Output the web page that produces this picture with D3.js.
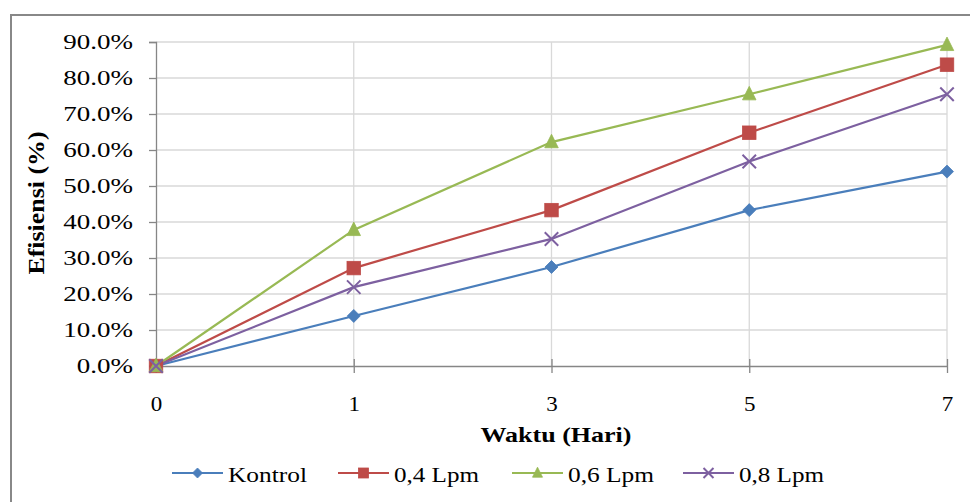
<!DOCTYPE html>
<html><head><meta charset="utf-8">
<script src="https://cdn.jsdelivr.net/npm/d3@7"></script>
<style>
html,body{margin:0;padding:0;background:#fff;}
svg{display:block;}
text{font-family:"Liberation Serif","Times New Roman",serif;fill:#000;}
</style></head>
<body>
<svg id="chart" width="970" height="502"></svg>
<script>
// ---- data ----
const days = ["0", "1", "3", "5", "7"];
const seriesNames = ["Kontrol", "0,4 Lpm", "0,6 Lpm", "0,8 Lpm"];
const kontrol = [0, 0.139, 0.275, 0.433, 0.540];
const lpm04 = [0, 0.272, 0.433, 0.648, 0.837];
const lpm06 = [0, 0.378, 0.622, 0.755, 0.892];
const lpm08 = [0, 0.219, 0.353, 0.568, 0.755];
const yTicks = [0, 0.1, 0.2, 0.3, 0.4, 0.5, 0.6, 0.7, 0.8, 0.9];
const xTitle = "Waktu (Hari)";
const yTitle = "Efisiensi (%)";

const seriesValues = [kontrol, lpm04, lpm06, lpm08];
const colors = ["#4a7ebb", "#be4b48", "#98b954", "#7d60a0"];
const markers = ["diamond", "square", "triangle", "cross"];

const svg = d3.select("#chart");

// outer frame
svg.append("rect").attr("x", 11).attr("y", 15).attr("width", 1000).attr("height", 600)
  .attr("fill", "none").attr("stroke", "#888").attr("stroke-width", 2);

const x = d3.scalePoint().domain(days).range([156, 947]).padding(0);
const y = d3.scaleLinear().domain([0, 0.9]).range([366, 42]);

// gridlines
const grid = svg.append("g");
grid.selectAll("line.h").data(yTicks.slice(1)).join("line")
  .attr("x1", 156).attr("x2", 947)
  .attr("y1", d => y(d)).attr("y2", d => y(d))
  .attr("stroke", "#d9d9d9").attr("stroke-width", 1.3);
grid.selectAll("line.v").data(days.slice(1)).join("line")
  .attr("x1", d => x(d)).attr("x2", d => x(d))
  .attr("y1", y(0.9)).attr("y2", y(0))
  .attr("stroke", "#d9d9d9").attr("stroke-width", 1.3);

// y axis
const yAxis = svg.append("g").attr("transform", "translate(156,0)")
  .call(d3.axisLeft(y).tickValues(yTicks).tickFormat(d3.format(".1%")).tickSize(7).tickPadding(0));
yAxis.select(".domain").attr("stroke", "#868686").attr("stroke-width", 1.3);
yAxis.selectAll(".tick line").attr("stroke", "#868686").attr("stroke-width", 1.3);
yAxis.selectAll(".tick text")
  .attr("font-size", 20).attr("font-family", "Liberation Serif")
  .attr("fill", "#000")
  .attr("x", -23 / 1.35).attr("dy", "0.33em")
  .attr("transform", "scale(1.35,1)");

// x axis
const xAxis = svg.append("g").attr("transform", "translate(0,366)")
  .call(d3.axisBottom(x).tickSize(7).tickPadding(0).tickSizeOuter(0));
xAxis.select(".domain").attr("stroke", "#868686").attr("stroke-width", 1.3);
xAxis.selectAll(".tick line").attr("stroke", "#868686").attr("stroke-width", 1.3).attr("y1", -7);
xAxis.selectAll(".tick text")
  .attr("font-size", 20).attr("font-family", "Liberation Serif").attr("fill", "#000")
  .attr("y", 45).attr("dy", 0)
  .attr("transform", "scale(1.15,1)");

// axis titles
svg.append("text").attr("x", 556).attr("y", 442).attr("text-anchor", "middle")
  .attr("font-size", 22).attr("font-weight", "bold")
  .attr("textLength", 151).attr("lengthAdjust", "spacingAndGlyphs").text(xTitle);
svg.append("text").attr("transform", "translate(44,203) rotate(-90)").attr("text-anchor", "middle")
  .attr("font-size", 23).attr("font-weight", "bold")
  .attr("textLength", 143).attr("lengthAdjust", "spacingAndGlyphs").text(yTitle);

// marker drawer
function drawMarker(g, type, color, s) {
  if (type === "diamond") {
    g.append("path").attr("d", `M0,${-s/2}L${s/2},0L0,${s/2}L${-s/2},0Z`).attr("fill", color).attr("stroke", color).attr("stroke-width", 0.8);
  } else if (type === "square") {
    g.append("rect").attr("x", -s/2).attr("y", -s/2).attr("width", s).attr("height", s).attr("fill", color).attr("stroke", color).attr("stroke-width", 0.8);
  } else if (type === "triangle") {
    const h = s;
    g.append("path").attr("d", `M0,${-h*0.58}L${s/2},${h*0.42}L${-s/2},${h*0.42}Z`).attr("fill", color).attr("stroke", color).attr("stroke-width", 0.8);
  } else {
    const r = s/2;
    g.append("path").attr("d", `M${-r},${-r}L${r},${r}M${-r},${r}L${r},${-r}`).attr("stroke", color).attr("stroke-width", 2).attr("fill", "none");
  }
}

// lines
const line = d3.line().x((d, i) => x(days[i])).y(d => y(d));
seriesValues.forEach((vals, si) => {
  svg.append("path").datum(vals).attr("d", line)
    .attr("fill", "none").attr("stroke", colors[si]).attr("stroke-width", 2.2);
});
// markers
seriesValues.forEach((vals, si) => {
  vals.forEach((v, i) => {
    const g = svg.append("g").attr("transform", `translate(${x(days[i])},${y(v)})`);
    drawMarker(g, markers[si], colors[si], si === 0 ? 13 : 13.5);
  });
});

// legend
const legendX = [172, 338, 512, 683];
const legendTextW = [79, 85, 86, 85];
const legendY = 473;
seriesNames.forEach((name, si) => {
  const g = svg.append("g").attr("transform", `translate(${legendX[si]},${legendY})`);
  g.append("line").attr("x1", 0).attr("x2", 51).attr("y1", 0).attr("y2", 0)
    .attr("stroke", colors[si]).attr("stroke-width", 2.2);
  const mg = g.append("g").attr("transform", "translate(25.5,0)");
  drawMarker(mg, markers[si], colors[si], 10);
  g.append("text").attr("x", 56).attr("y", 9).attr("font-size", 21)
    .attr("textLength", legendTextW[si]).attr("lengthAdjust", "spacingAndGlyphs").text(name);
});
</script>
</body></html>
